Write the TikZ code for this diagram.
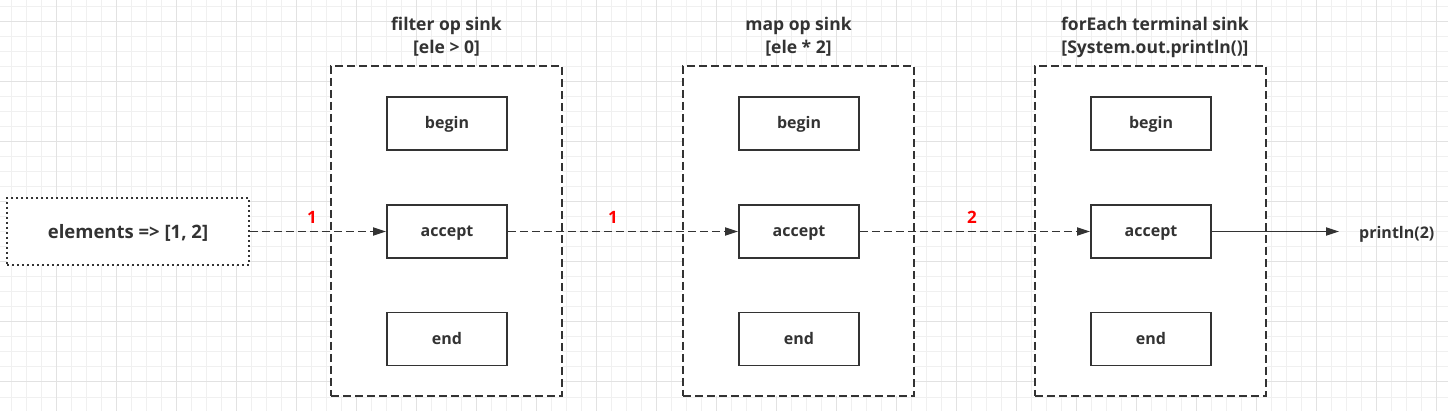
\documentclass[tikz,border=0pt]{standalone}
\usepackage{fontspec}
\setmainfont{Open Sans}
\usetikzlibrary{arrows.meta}
\definecolor{ink}{HTML}{333333}
\definecolor{gridminor}{HTML}{F0F0F0}
\definecolor{gridmajor}{HTML}{E2E2E2}
\begin{document}
\begin{tikzpicture}[x=1pt,y=-1pt,
  container/.style={draw=ink, fill=white, line width=1.8pt, dash pattern=on 8pt off 4pt, minimum width=231pt, minimum height=330pt, inner sep=0pt},
  stage/.style={draw=ink, fill=white, line width=1.8pt, minimum width=120pt, minimum height=53pt, inner sep=0pt, text=ink, text height=12pt, text depth=1pt, font=\bfseries\fontsize{16}{18}\selectfont},
  source/.style={draw=ink, fill=white, line width=1.8pt, dash pattern=on 2pt off 3pt, minimum width=242pt, minimum height=67pt, inner sep=0pt, text=ink, text height=15pt, text depth=0pt, font=\bfseries\fontsize{18.5}{21}\selectfont},
  flow/.style={draw=ink, line width=1.9pt, dash pattern=on 8pt off 4pt, -{Triangle[length=13pt,width=8pt]}},
  solidflow/.style={draw=ink, line width=1.9pt, -{Triangle[length=13pt,width=8pt]}},
  num/.style={text=red, font=\bfseries\fontsize{17}{19}\selectfont, inner sep=0pt},
  heading/.style={text=ink, align=center, inner sep=0pt, font=\bfseries\fontsize{17.5}{23}\selectfont},
  outlabel/.style={text=ink, inner sep=0pt, text height=14pt, text depth=0pt, font=\bfseries\fontsize{16}{18}\selectfont}]
\fill[white] (0,0) rectangle (1448,411);
\useasboundingbox (0,0) rectangle (1448,411);
% grid
\foreach \x in {11,26,...,1448} \draw[gridminor, line width=1pt] (\x,0) -- (\x,411);
\foreach \y in {7,22,...,411} \draw[gridminor, line width=1pt] (0,\y) -- (1448,\y);
\foreach \x in {56,116,...,1448} \draw[gridmajor, line width=1pt] (\x,0) -- (\x,411);
\foreach \y in {22,82,...,411} \draw[gridmajor, line width=1pt] (0,\y) -- (1448,\y);

% containers
\node[container] (c1) at (446.5,231) {};
\node[container] (c2) at (798.5,231) {};
\node[container] (c3) at (1150.5,231) {};

\node[heading] (t1) at (446.5,37) {filter op sink\\{[ele > 0]}};
\node[heading] (t2) at (798.5,37) {map op sink\\{[ele * 2]}};
\node[heading] (t3) at (1155,37) {forEach terminal sink\\{[System.out.println()]}};

% stages
\node[stage] (b1) at (447,123.5) {begin};
\node[stage] (a1) at (447,231.5) {accept};
\node[stage] (e1) at (447,339) {end};
\node[stage] (b2) at (799,123.5) {begin};
\node[stage] (a2) at (799,231.5) {accept};
\node[stage] (e2) at (799,339) {end};
\node[stage] (b3) at (1151,123.5) {begin};
\node[stage] (a3) at (1151,231.5) {accept};
\node[stage] (e3) at (1151,339) {end};

\node[source] (src) at (128,231.5) {elements => [1, 2]};
\node[outlabel, anchor=west] (out) at (1359,231.5) {println(2)};

\draw[flow] (src.east) -- (a1.west);
\draw[flow] (a1.east) -- (a2.west);
\draw[flow] (a2.east) -- (a3.west);
\draw[solidflow, shorten >=20pt] (a3.east) -- (out.west);

\node[num] (n1) at (312,217) {1};
\node[num] (n2) at (613,217) {1};
\node[num] (n3) at (972,217) {2};
\end{tikzpicture}
\end{document}
